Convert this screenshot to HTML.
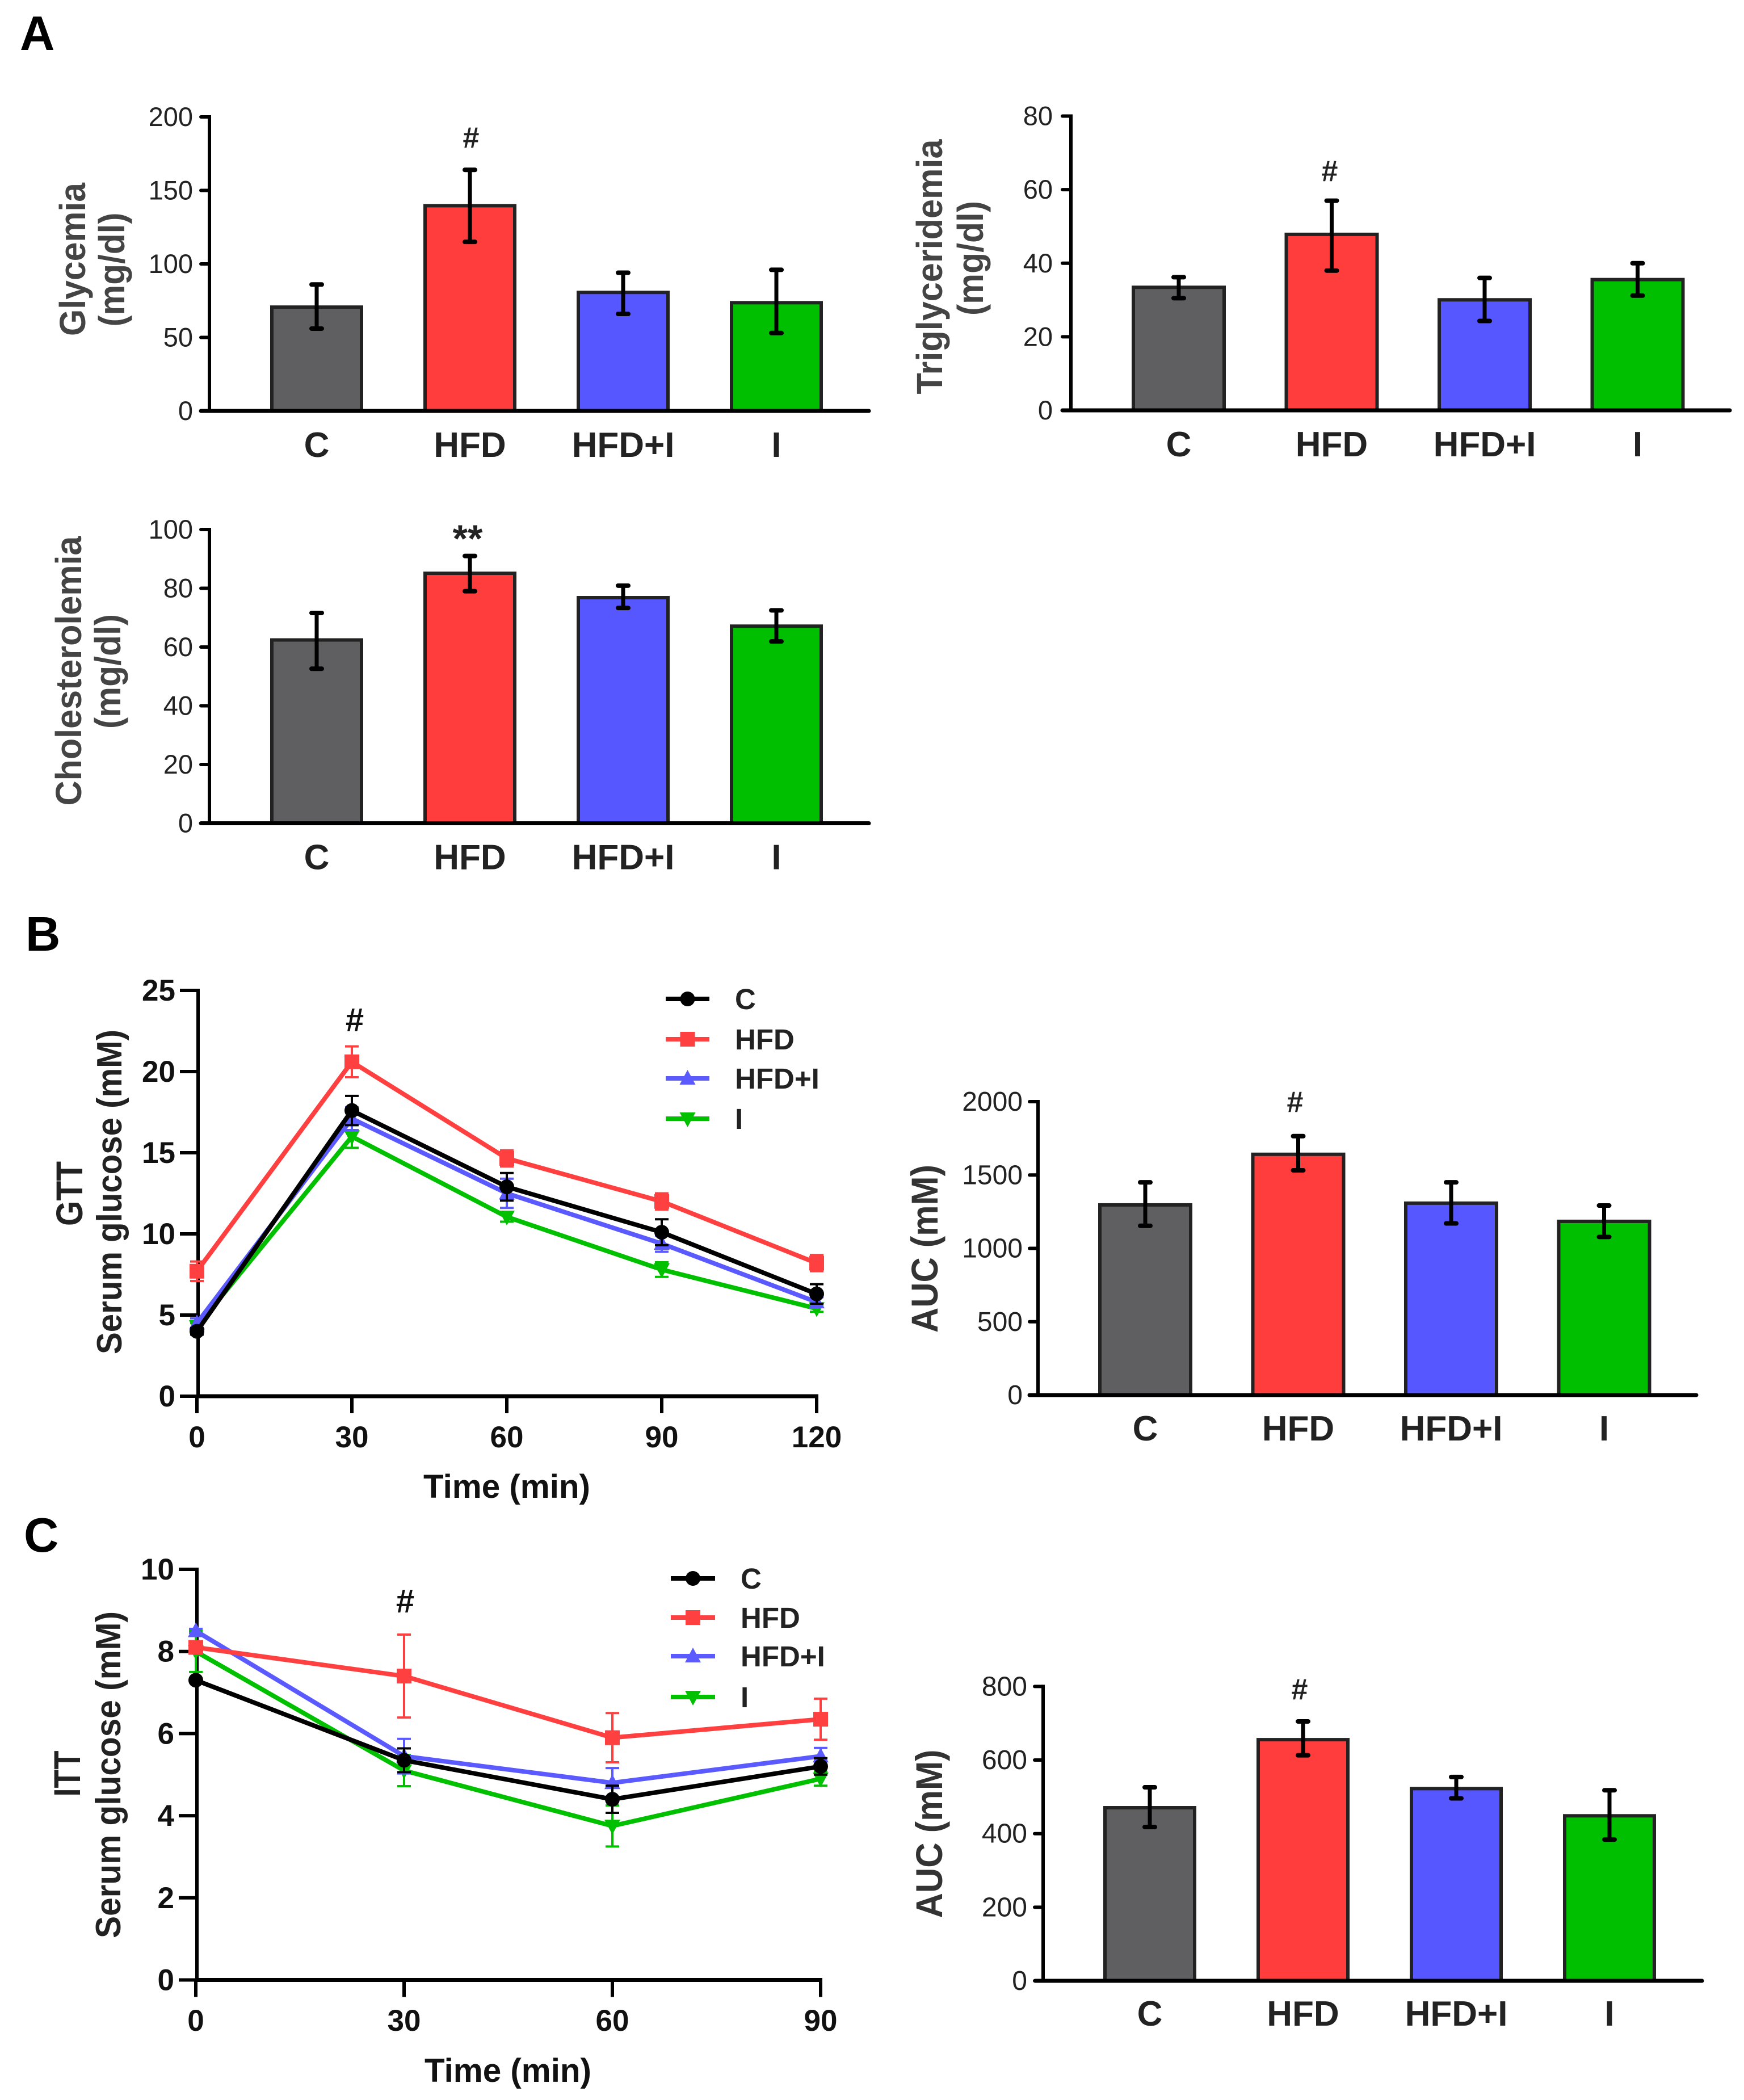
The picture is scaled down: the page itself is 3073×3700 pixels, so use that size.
<!DOCTYPE html>
<html lang="en">
<head>
<meta charset="utf-8">
<title>Metabolic parameters figure</title>
<style>
html,body{margin:0;padding:0;background:#fff;}
svg{display:block;font-family:"Liberation Sans",Arial,sans-serif;}
</style>
</head>
<body>
<svg id="figure" xmlns="http://www.w3.org/2000/svg" width="3073" height="3700" viewBox="0 0 3073 3700">
<rect width="3073" height="3700" fill="#fff"/>
<text x="35" y="88" font-size="85" font-weight="700" fill="#000">A</text>
<text x="45" y="1675" font-size="85" font-weight="700" fill="#000">B</text>
<text x="42" y="2734" font-size="85" font-weight="700" fill="#000">C</text>
</svg>
<script>
// Shared categories
const groups = ['C', 'HFD', 'HFD+I', 'I'];

// Glycemia
const glycemiaTicks = [0, 50, 100, 150, 200];
const glycemiaValues = [71, 140, 81, 74];
const glycemiaUpper = [86, 164, 94, 96];
const glycemiaLower = [56, 115, 66, 53];

// Triglyceridemia
const triglycTicks = [0, 20, 40, 60, 80];
const triglycValues = [33.6, 48, 30.2, 35.7];
const triglycUpper = [36.2, 57, 36, 40];
const triglycLower = [30.5, 38, 24.3, 31.2];

// Cholesterolemia
const cholTicks = [0, 20, 40, 60, 80, 100];
const cholValues = [62.6, 85.3, 77, 67.3];
const cholUpper = [71.6, 91, 80.9, 72.5];
const cholLower = [52.6, 79, 73.3, 61.9];

// AUC for GTT
const aucGttTicks = [0, 500, 1000, 1500, 2000];
const aucGttValues = [1300, 1645, 1312, 1188];
const aucGttUpper = [1450, 1765, 1450, 1292];
const aucGttLower = [1154, 1532, 1170, 1078];

// AUC for ITT
const aucIttTicks = [0, 200, 400, 600, 800];
const aucIttValues = [472, 657, 524, 450];
const aucIttUpper = [526, 705, 554, 518];
const aucIttLower = [418, 613, 496, 384];

// GTT time course
const gttTimes = [0, 30, 60, 90, 120];
const gttTicks = [0, 5, 10, 15, 20, 25];
const gttC = [4.0, 17.6, 12.9, 10.1, 6.3];
const gttHFD = [7.7, 20.6, 14.65, 12.0, 8.2];
const gttHFDI = [4.5, 17.1, 12.5, 9.4, 5.8];
const gttI = [4.3, 16.0, 11.05, 7.8, 5.4];
const gttErrC = [0.2, 0.9, 0.85, 0.8, 0.6];
const gttErrHFD = [0.6, 0.95, 0.5, 0.5, 0.5];
const gttErrHFDI = [0.3, 0.7, 0.9, 0.5, 0.3];
const gttErrI = [0.2, 0.7, 0.3, 0.45, 0.2];

// ITT time course
const ittTimes = [0, 30, 60, 90];
const ittTicks = [0, 2, 4, 6, 8, 10];
const ittC = [7.3, 5.35, 4.4, 5.2];
const ittHFD = [8.1, 7.4, 5.9, 6.35];
const ittHFDI = [8.5, 5.45, 4.8, 5.45];
const ittI = [8.0, 5.1, 3.75, 4.9];
const ittErrC = [0.05, 0.29, 0.33, 0.2];
const ittErrHFD = [0.05, 1.01, 0.6, 0.5];
const ittErrHFDI = [0.05, 0.42, 0.36, 0.2];
const ittErrI = [0.5, 0.38, 0.5, 0.17];

const barColors = ['#5f5f61', '#ff3d3d', '#5757ff', '#00bf00'];
const lineColors = ['#000000', '#ff4040', '#5a5aff', '#00c000'];
const markerKinds = ['circle', 'square', 'up', 'down'];
const drawOrder = [3, 2, 1, 0];

const NS = 'http://www.w3.org/2000/svg';
const root = document.getElementById('figure');

function make(tag, parent, attrs) {
  const node = document.createElementNS(NS, tag);
  for (const k in attrs) node.setAttribute(k, attrs[k]);
  parent.appendChild(node);
  return node;
}
function slug(s) {
  return String(s).toLowerCase().replace(/[^a-z0-9]+/g, '-').replace(/^-|-$/g, '');
}
function label(parent, str, x, y, size, weight, fill, anchor, name, len, rotate) {
  const attrs = { x: x, y: y, 'font-size': size, 'font-weight': weight, fill: fill, 'text-anchor': anchor };
  if (len) { attrs.textLength = len; attrs.lengthAdjust = 'spacingAndGlyphs'; }
  if (rotate) attrs.transform = 'rotate(-90 ' + x + ' ' + y + ')';
  const t = make('text', parent, attrs);
  t.textContent = str;
  
  
  return t;
}
function seg(parent, x1, y1, x2, y2, stroke, width, name, cap) {
  const l = make('line', parent, { x1: x1, y1: y1, x2: x2, y2: y2, stroke: stroke, 'stroke-width': width, 'stroke-linecap': cap || 'butt' });
  
  
  return l;
}
function marker(parent, kind, x, y, color, name) {
  let m;
  if (kind === 'circle') {
    m = make('circle', parent, { cx: x, cy: y, r: 13, fill: color });
  } else if (kind === 'square') {
    m = make('rect', parent, { x: x - 13, y: y - 13, width: 26, height: 26, fill: color });
  } else if (kind === 'up') {
    m = make('polygon', parent, { points: (x - 14) + ',' + (y + 11) + ' ' + (x + 14) + ',' + (y + 11) + ' ' + x + ',' + (y - 15), fill: color });
  } else {
    m = make('polygon', parent, { points: (x - 14) + ',' + (y - 11) + ' ' + (x + 14) + ',' + (y - 11) + ' ' + x + ',' + (y + 15), fill: color });
  }
  
  
  return m;
}

function barChart(c) {
  const g = make('g', root, {});
  
  
  const yScale = v => c.y0 - (v / c.yMax) * (c.y0 - c.yTop);
  const xScale = i => c.x0 + i * c.step;

  seg(g, c.axX, c.yTop - 3, c.axX, c.y0, '#000', 6, 'y-axis-line');
  c.ticks.forEach(v => {
    const y = yScale(v);
    seg(g, c.axX - 15, y, c.axX, y, '#000', 6, 'y-axis-tick', 'round');
    label(g, String(v), c.axX - c.labelGap, y + 16, c.tickSize, 400, '#222', 'end', 'y-tick-label');
  });

  c.values.forEach((v, i) => {
    const x = xScale(i);
    const top = yScale(v) + 1;
    const bar = make('rect', g, { x: x - c.barW / 2, y: top, width: c.barW, height: c.y0 - top, fill: barColors[i], stroke: '#222', 'stroke-width': 6 });
    
    
  });

  seg(g, c.xLeft, c.y0, c.xRight, c.y0, '#000', 7, 'x-axis-line', 'round');

  c.values.forEach((v, i) => {
    const x = xScale(i);
    const hi = yScale(c.upper[i]);
    const lo = yScale(c.lower[i]);
    seg(g, x, hi, x, lo, '#000', 7, 'error-bar-' + slug(groups[i]));
    seg(g, x - 9, hi, x + 9, hi, '#000', 8, 'error-cap-upper', 'round');
    seg(g, x - 9, lo, x + 9, lo, '#000', 8, 'error-cap-lower', 'round');
    label(g, groups[i], x, c.y0 + c.catGap, 62, 700, '#222', 'middle', 'category-label-' + slug(groups[i]));
  });

  c.titles.forEach(t => {
    label(g, t.text, t.x, t.y, t.size, 700, c.titleColor, 'middle', 'y-axis-title', t.len, true);
  });
  label(g, c.mark.text, c.mark.x, c.mark.y, c.mark.size, 700, '#222', 'middle', 'significance-marker');
}

function lineChart(c) {
  const g = make('g', root, {});
  
  
  const tMax = c.times[c.times.length - 1];
  const xScale = t => c.axX + (t / tMax) * (c.xEnd - c.axX);
  const yScale = v => c.y0 - (v / c.yMax) * (c.y0 - c.yTop);

  seg(g, c.axX + 2, c.yTop - 3, c.axX + 2, c.y0, '#000', 6, 'y-axis-line');
  seg(g, c.axX, c.y0, c.xEnd + 3, c.y0, '#000', 7, 'x-axis-line');
  c.ticks.forEach(v => {
    const y = yScale(v);
    seg(g, c.axX - 30, y, c.axX, y, '#000', 6, 'y-axis-tick');
    label(g, String(v), c.axX - 38, y + 18, 53, 700, '#111', 'end', 'y-tick-label');
  });
  c.times.forEach(t => {
    const x = xScale(t);
    seg(g, x, c.y0, x, c.y0 + 30, '#000', 6, 'x-axis-tick');
    label(g, String(t), x, c.xLabelY, 53, 700, '#111', 'middle', 'x-tick-label');
  });

  drawOrder.forEach(s => {
    const vals = c.series[s];
    const errs = c.errors[s];
    const color = lineColors[s];
    const pts = vals.map((v, i) => xScale(c.times[i]) + ',' + yScale(v)).join(' ');
    vals.forEach((v, i) => {
      const x = xScale(c.times[i]);
      const hi = yScale(v + errs[i]);
      const lo = yScale(v - errs[i]);
      seg(g, x, hi, x, lo, color, 4, 'error-bar-' + slug(groups[s]));
      seg(g, x - 12, hi, x + 12, hi, color, 4, 'error-cap-upper');
      seg(g, x - 12, lo, x + 12, lo, color, 4, 'error-cap-lower');
    });
    const path = make('polyline', g, { points: pts, fill: 'none', stroke: color, 'stroke-width': 8, 'stroke-linejoin': 'miter' });
    
    
    vals.forEach((v, i) => {
      marker(g, markerKinds[s], xScale(c.times[i]), yScale(v), color, 'point-' + slug(groups[s]));
    });
  });

  groups.forEach((name, i) => {
    const y = c.legendRows[i];
    const mid = (c.legendX1 + c.legendX2) / 2;
    seg(g, c.legendX1, y, c.legendX2, y, lineColors[i], 8, 'legend-line-' + slug(name));
    marker(g, markerKinds[i], mid, y, lineColors[i], 'legend-marker-' + slug(name));
    label(g, name, c.legendText, y + 18, 51, 700, '#222', 'start', 'legend-entry-' + slug(name));
  });

  label(g, 'Time (min)', c.timeX, c.timeY, 58, 700, '#111', 'middle', 'x-axis-title', 294);
  label(g, 'Serum glucose (mM)', c.titleX, c.titleMid, 62, 700, '#222', 'middle', 'y-axis-title', c.titleLen, true);
  label(g, c.assay.text, c.assay.x, c.assay.y, 66, 700, '#222', 'middle', 'assay-label', c.assay.len, true);
  label(g, '#', c.mark.x, c.mark.y, 58, 700, '#111', 'middle', 'significance-marker');
}

barChart({
  name: 'glycemia-chart', axX: 369, yTop: 206, y0: 724, xLeft: 354, xRight: 1531, yMax: 200,
  x0: 558, step: 270, barW: 158, labelGap: 29, tickSize: 47, catGap: 81, titleColor: '#444',
  ticks: glycemiaTicks, values: glycemiaValues, upper: glycemiaUpper, lower: glycemiaLower,
  titles: [{ text: 'Glycemia', x: 150, y: 457, size: 64, len: 270 }, { text: '(mg/dl)', x: 219, y: 475, size: 64, len: 201 }],
  mark: { text: '#', x: 830, y: 260, size: 52 }
});
barChart({
  name: 'triglyceridemia-chart', axX: 1887, yTop: 204.5, y0: 723, xLeft: 1872, xRight: 3048, yMax: 80,
  x0: 2077, step: 269.5, barW: 160, labelGap: 32, tickSize: 47, catGap: 81, titleColor: '#444',
  ticks: triglycTicks, values: triglycValues, upper: triglycUpper, lower: triglycLower,
  titles: [{ text: 'Triglyceridemia', x: 1660, y: 470, size: 64, len: 449 }, { text: '(mg/dl)', x: 1732, y: 455, size: 64, len: 202 }],
  mark: { text: '#', x: 2343, y: 319, size: 52 }
});
barChart({
  name: 'cholesterolemia-chart', axX: 369, yTop: 933, y0: 1450.5, xLeft: 354, xRight: 1531, yMax: 100,
  x0: 558, step: 270, barW: 158, labelGap: 29, tickSize: 47, catGap: 81, titleColor: '#444',
  ticks: cholTicks, values: cholValues, upper: cholUpper, lower: cholLower,
  titles: [{ text: 'Cholesterolemia', x: 143, y: 1182, size: 64, len: 475 }, { text: '(mg/dl)', x: 212, y: 1183, size: 64, len: 202 }],
  mark: { text: '**', x: 824, y: 972, size: 68 }
});
barChart({
  name: 'gtt-auc-chart', axX: 1829, yTop: 1941, y0: 2458, xLeft: 1814, xRight: 2989, yMax: 2000,
  x0: 2018, step: 269.5, barW: 160, labelGap: 27, tickSize: 48, catGap: 80, titleColor: '#333',
  ticks: aucGttTicks, values: aucGttValues, upper: aucGttUpper, lower: aucGttLower,
  titles: [{ text: 'AUC (mM)', x: 1652, y: 2200, size: 66, len: 296 }],
  mark: { text: '#', x: 2282, y: 1959, size: 52 }
});
barChart({
  name: 'itt-auc-chart', axX: 1838, yTop: 2971.4, y0: 3490, xLeft: 1824, xRight: 2999, yMax: 800,
  x0: 2026, step: 270, barW: 158, labelGap: 28, tickSize: 48, catGap: 79, titleColor: '#333',
  ticks: aucIttTicks, values: aucIttValues, upper: aucIttUpper, lower: aucIttLower,
  titles: [{ text: 'AUC (mM)', x: 1660, y: 3231, size: 66, len: 297 }],
  mark: { text: '#', x: 2290, y: 2994, size: 52 }
});

lineChart({
  name: 'gtt-line-chart', axX: 347, xEnd: 1439, yTop: 1745, y0: 2460, yMax: 25,
  times: gttTimes, ticks: gttTicks,
  series: [gttC, gttHFD, gttHFDI, gttI], errors: [gttErrC, gttErrHFD, gttErrHFDI, gttErrI],
  xLabelY: 2550, legendRows: [1760, 1831, 1900, 1971], legendX1: 1173, legendX2: 1250, legendText: 1295,
  timeX: 893, timeY: 2639, titleX: 214, titleMid: 2100, titleLen: 572,
  assay: { text: 'GTT', x: 145, y: 2103, len: 114 },
  mark: { x: 625, y: 1817 }
});
lineChart({
  name: 'itt-line-chart', axX: 345, xEnd: 1446, yTop: 2765, y0: 3488.5, yMax: 10,
  times: ittTimes, ticks: ittTicks,
  series: [ittC, ittHFD, ittHFDI, ittI], errors: [ittErrC, ittErrHFD, ittErrHFDI, ittErrI],
  xLabelY: 3578, legendRows: [2781, 2850, 2918, 2990], legendX1: 1182, legendX2: 1260, legendText: 1305,
  timeX: 895, timeY: 3668, titleX: 212, titleMid: 3127, titleLen: 576,
  assay: { text: 'ITT', x: 141, y: 3125, len: 81 },
  mark: { x: 714, y: 2841 }
});
</script>
</body>
</html>
